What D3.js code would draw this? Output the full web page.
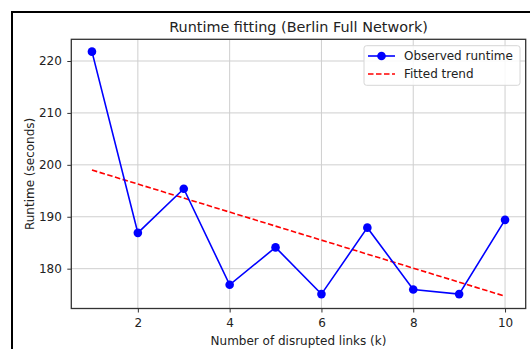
<!DOCTYPE html>
<html>
<head>
<meta charset="utf-8">
<script src="https://cdn.jsdelivr.net/npm/d3@7"></script>
<style>
  html, body { margin: 0; padding: 0; background: #fff; }
  svg { display: block; font-family: "DejaVu Sans", sans-serif; }
</style>
</head>
<body>
<div id="chart"></div>
<script>
// Number of disrupted links (k)
const linksK = [1, 2, 3, 4, 5, 6, 7, 8, 9, 10];
// Observed runtime in seconds for each k
const observedRuntime = [221.8, 186.9, 195.4, 176.9, 184.1, 175.1, 187.9, 176.0, 175.1, 189.4];
// Fitted linear trend, evaluated at the first and last k
const trendK = [1, 10];
const trendRuntime = [199.0, 174.7];
// Axis ticks
const xTicks = [2, 4, 6, 8, 10];
const yTicks = [180, 190, 200, 210, 220];

const W = 530, H = 349;
const plot = { left: 71.3, right: 525.7, top: 39.3, bottom: 308.5 };

const svg = d3.select("#chart").append("svg")
  .attr("width", W).attr("height", H);

// Outer frame
svg.append("rect")
  .attr("x", 12).attr("y", 12)
  .attr("width", W + 20).attr("height", H + 20)
  .attr("fill", "none").attr("stroke", "#000").attr("stroke-width", 2);

const x = d3.scaleLinear().domain([0.55, 10.45]).range([plot.left, plot.right]);
const y = d3.scaleLinear().domain([172.33, 224.18]).range([plot.bottom, plot.top]);

// Grid
const grid = svg.append("g").attr("stroke", "#cfcfcf").attr("stroke-width", 1);
grid.selectAll("line.gx").data(xTicks).join("line")
  .attr("x1", d => x(d)).attr("x2", d => x(d))
  .attr("y1", plot.top).attr("y2", plot.bottom);
grid.selectAll("line.gy").data(yTicks).join("line")
  .attr("y1", d => y(d)).attr("y2", d => y(d))
  .attr("x1", plot.left).attr("x2", plot.right);

// Axes
const xAxis = svg.append("g")
  .attr("transform", `translate(0,${plot.bottom})`)
  .call(d3.axisBottom(x).tickValues(xTicks).tickSize(4).tickPadding(5.5).tickFormat(d3.format("d")));
const yAxis = svg.append("g")
  .attr("transform", `translate(${plot.left},0)`)
  .call(d3.axisLeft(y).tickValues(yTicks).tickSize(4).tickPadding(5.5).tickFormat(d3.format("d")));
[xAxis, yAxis].forEach(g => {
  g.select(".domain").remove();
  g.selectAll(".tick line").attr("stroke", "#333").attr("stroke-width", 1);
  g.selectAll(".tick text").attr("fill", "#222")
    .style("font-family", "DejaVu Sans, sans-serif").style("font-size", "12px");
});

// Plot frame (spines)
svg.append("rect")
  .attr("x", plot.left).attr("y", plot.top)
  .attr("width", plot.right - plot.left).attr("height", plot.bottom - plot.top)
  .attr("fill", "none").attr("stroke", "#333").attr("stroke-width", 1.3);

// Fitted trend
svg.append("path")
  .datum(trendK.map((k, i) => [k, trendRuntime[i]]))
  .attr("fill", "none").attr("stroke", "#ff0000").attr("stroke-width", 1.6)
  .attr("stroke-dasharray", "5.5,2.5")
  .attr("d", d3.line().x(d => x(d[0])).y(d => y(d[1])));

// Observed runtime
const obs = linksK.map((k, i) => [k, observedRuntime[i]]);
svg.append("path")
  .datum(obs)
  .attr("fill", "none").attr("stroke", "#0000ff").attr("stroke-width", 1.6)
  .attr("d", d3.line().x(d => x(d[0])).y(d => y(d[1])));
svg.append("g").selectAll("circle").data(obs).join("circle")
  .attr("cx", d => x(d[0])).attr("cy", d => y(d[1])).attr("r", 4.3)
  .attr("fill", "#0000ff");

// Title and axis labels
svg.append("text")
  .attr("x", (plot.left + plot.right) / 2).attr("y", 31.5)
  .attr("text-anchor", "middle").attr("fill", "#222").style("font-size", "14.4px")
  .text("Runtime fitting (Berlin Full Network)");
svg.append("text")
  .attr("x", (plot.left + plot.right) / 2).attr("y", 344.5)
  .attr("text-anchor", "middle").attr("fill", "#222").style("font-size", "12px")
  .text("Number of disrupted links (k)");
svg.append("text")
  .attr("transform", `translate(34,${(plot.top + plot.bottom) / 2}) rotate(-90)`)
  .attr("text-anchor", "middle").attr("fill", "#222").style("font-size", "12px")
  .text("Runtime (seconds)");

// Legend
const legend = svg.append("g");
legend.append("rect")
  .attr("x", 364).attr("y", 45.7).attr("width", 156).attr("height", 39.6)
  .attr("rx", 2.5).attr("fill", "#fff").attr("fill-opacity", 0.85)
  .attr("stroke", "#d6d6d6").attr("stroke-width", 1);
const items = [
  { label: "Observed runtime", color: "#0000ff", dash: null, marker: true },
  { label: "Fitted trend", color: "#ff0000", dash: "5.5,2.5", marker: false }
];
items.forEach((it, i) => {
  const cy = 56 + i * 18;
  legend.append("line")
    .attr("x1", 368).attr("x2", 395).attr("y1", cy).attr("y2", cy)
    .attr("stroke", it.color).attr("stroke-width", 1.6)
    .attr("stroke-dasharray", it.dash);
  if (it.marker) {
    legend.append("circle").attr("cx", 381.5).attr("cy", cy).attr("r", 4.3).attr("fill", it.color);
  }
  legend.append("text")
    .attr("x", 404).attr("y", cy).attr("dy", "0.35em")
    .attr("fill", "#222").style("font-size", "12px")
    .text(it.label);
});
</script>
</body>
</html>
